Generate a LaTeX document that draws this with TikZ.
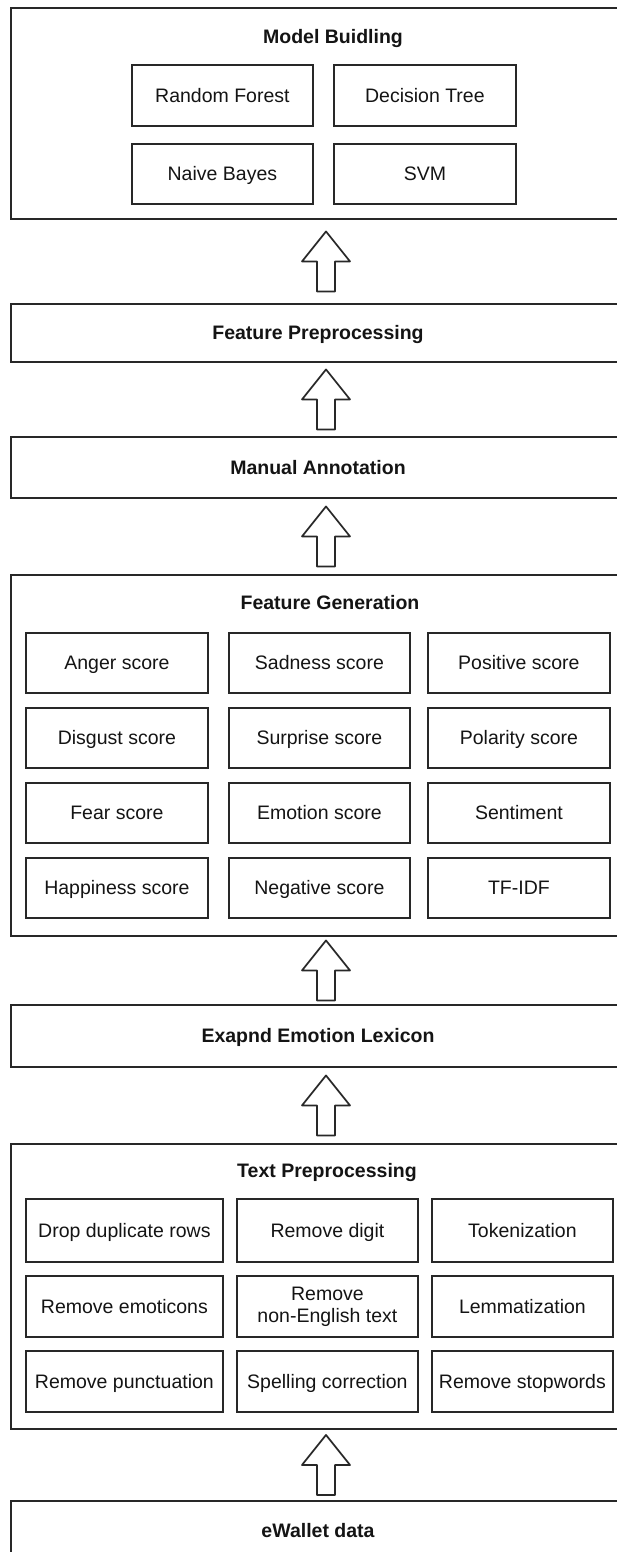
\documentclass[tikz,border=0pt]{standalone}
\usepackage{fontspec}
\setmainfont{Liberation Sans}
\usetikzlibrary{calc}
\definecolor{linec}{RGB}{40,40,40}
\definecolor{textc}{RGB}{20,20,20}
\tikzset{
  outerbox/.style={draw=linec, line width=1.9pt, anchor=north west, inner sep=0pt},
  innerbase/.style={draw=linec, line width=1.8pt, anchor=north west, align=center, inner sep=0pt,
    text=textc, font=\fontsize{19.5}{22}\selectfont},
  inner/.style={innerbase, text height=14pt, text depth=0pt},
  titletext/.style={anchor=base, inner sep=0pt, text=textc, font=\fontsize{19.5}{22}\selectfont\bfseries},
  hollow/.style={draw=linec, line width=1.7pt, line join=round, fill=white}
}
\newcommand\hollowarrow[2]{%
  \draw[hollow] let \p1=(#1.north), \p2=(#2.south), \n1={(\y1+\y2)/2} in
    ({317pt},{\n1-30pt}) -- ({317pt},{\n1}) -- ({302pt},{\n1}) -- ({326pt},{\n1+30pt})
    -- ({350pt},{\n1}) -- ({335pt},{\n1}) -- ({335pt},{\n1-30pt}) -- cycle;}
\begin{document}
\begin{tikzpicture}[x=1pt,y=-1pt]
\useasboundingbox (0,0) rectangle (617,1552);
\clip (0,0) rectangle (617,1552);
\fill[white] (0,0) rectangle (617,1552);

% Model Building
\node[outerbox, minimum width=630, minimum height=210.5] (A) at (10,7.5) {};
\node[titletext] (Atitle) at (333,44) {Model Buidling};
\node[inner, minimum width=181, minimum height=61] (rf) at (131,64) {Random Forest};
\node[inner, minimum width=182, minimum height=61] (dt) at (333,64) {Decision Tree};
\node[inner, minimum width=181, minimum height=60] (nb) at (131,143) {Naive Bayes};
\node[inner, minimum width=182, minimum height=60] (svm) at (333,143) {SVM};

% Feature Preprocessing
\node[outerbox, minimum width=630, minimum height=58] (B) at (10,303) {};
\node[titletext] (Btitle) at (318,339) {Feature Preprocessing};

% Manual Annotation
\node[outerbox, minimum width=630, minimum height=61] (C) at (10,436) {};
\node[titletext] (Ctitle) at (318,474) {Manual Annotation};

% Feature Generation
\node[outerbox, minimum width=630, minimum height=361] (D) at (10,574) {};
\node[titletext] (Dtitle) at (330,609) {Feature Generation};
\node[inner, minimum width=182, minimum height=60] (g11) at (25,632) {Anger score};
\node[inner, minimum width=181, minimum height=60] (g12) at (228,632) {Sadness score};
\node[inner, minimum width=182, minimum height=60] (g13) at (427,632) {Positive score};
\node[inner, minimum width=182, minimum height=60] (g21) at (25,707) {Disgust score};
\node[inner, minimum width=181, minimum height=60] (g22) at (228,707) {Surprise score};
\node[inner, minimum width=182, minimum height=60] (g23) at (427,707) {Polarity score};
\node[inner, minimum width=182, minimum height=60] (g31) at (25,782) {Fear score};
\node[inner, minimum width=181, minimum height=60] (g32) at (228,782) {Emotion score};
\node[inner, minimum width=182, minimum height=60] (g33) at (427,782) {Sentiment};
\node[inner, minimum width=182, minimum height=60] (g41) at (25,857) {Happiness score};
\node[inner, minimum width=181, minimum height=60] (g42) at (228,857) {Negative score};
\node[inner, minimum width=182, minimum height=60] (g43) at (427,857) {TF-IDF};

% Expand Emotion Lexicon
\node[outerbox, minimum width=630, minimum height=62] (E) at (10,1004) {};
\node[titletext] (Etitle) at (318,1042) {Exapnd Emotion Lexicon};

% Text Preprocessing
\node[outerbox, minimum width=630, minimum height=285] (F) at (10,1143) {};
\node[titletext] (Ftitle) at (327,1177) {Text Preprocessing};
\node[inner, minimum width=197, minimum height=63] (t11) at (25,1198) {Drop duplicate rows};
\node[inner, minimum width=181, minimum height=63] (t12) at (236,1198) {Remove digit};
\node[inner, minimum width=181, minimum height=63] (t13) at (431,1198) {Tokenization};
\node[inner, minimum width=197, minimum height=61] (t21) at (25,1275) {Remove emoticons};
\node[innerbase, minimum width=181, minimum height=61] (t22) at (236,1275) {Remove\\non-English text};
\node[inner, minimum width=181, minimum height=61] (t23) at (431,1275) {Lemmatization};
\node[inner, minimum width=197, minimum height=61] (t31) at (25,1350) {Remove punctuation};
\node[inner, minimum width=181, minimum height=61] (t32) at (236,1350) {Spelling correction};
\node[inner, minimum width=181, minimum height=61] (t33) at (431,1350) {Remove stopwords};

% eWallet data
\node[outerbox, minimum width=630, minimum height=100] (G) at (10,1500) {};
\node[titletext] (Gtitle) at (318,1537) {eWallet data};

% hollow arrows
\hollowarrow{B}{A}
\hollowarrow{C}{B}
\hollowarrow{D}{C}
\hollowarrow{E}{D}
\hollowarrow{F}{E}
\hollowarrow{G}{F}
\end{tikzpicture}
\end{document}
